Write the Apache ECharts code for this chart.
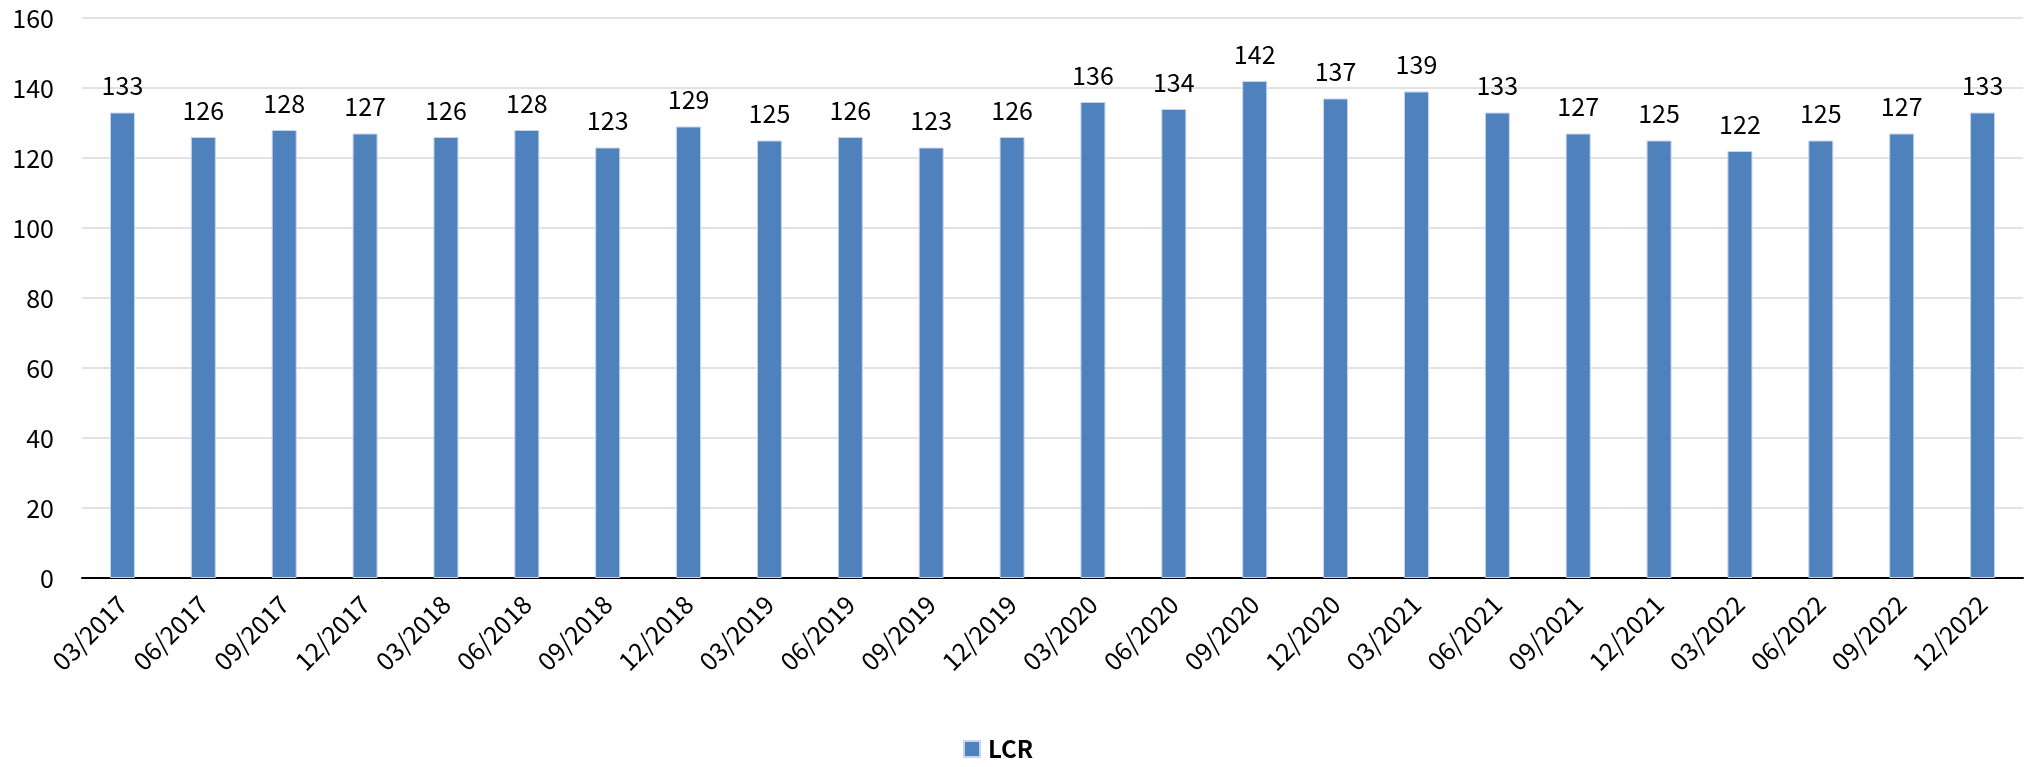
<!DOCTYPE html>
<html>
<head>
<meta charset="utf-8">
<script src="https://cdn.jsdelivr.net/npm/echarts@6/dist/echarts.min.js"></script>
<style>
  html, body { margin: 0; padding: 0; background: #fff; }
  #chart { width: 2025px; height: 767px; }
</style>
</head>
<body>
<div id="chart"></div>
<script>
// Quarterly liquidity coverage ratio (%)
const quarters = [
  '03/2017', '06/2017', '09/2017', '12/2017',
  '03/2018', '06/2018', '09/2018', '12/2018',
  '03/2019', '06/2019', '09/2019', '12/2019',
  '03/2020', '06/2020', '09/2020', '12/2020',
  '03/2021', '06/2021', '09/2021', '12/2021',
  '03/2022', '06/2022', '09/2022', '12/2022'
];
const lcrValues = [
  133, 126, 128, 127,
  126, 128, 123, 129,
  125, 126, 123, 126,
  136, 134, 142, 137,
  139, 133, 127, 125,
  122, 125, 127, 133
];
const seriesName = 'LCR';

const FONT = '"Noto Sans CJK JP", "Noto Sans", sans-serif';

const chart = echarts.init(document.getElementById('chart'), null, { renderer: 'canvas' });
chart.setOption({
  animation: false,
  textStyle: { fontFamily: FONT },
  grid: { left: 82, right: 2, top: 18, bottom: 189, containLabel: false },
  legend: {
    bottom: 1,
    left: 958,
    itemWidth: 16,
    itemHeight: 16,
    itemGap: 8,
    icon: 'rect',
    textStyle: { fontFamily: FONT, fontSize: 24, fontWeight: 'bold', color: '#000', padding: [0, 0, 0, 3] },
    data: [seriesName]
  },
  xAxis: {
    type: 'category',
    data: quarters,
    axisLine: { lineStyle: { color: '#000', width: 2 } },
    axisTick: { show: false },
    axisLabel: {
      rotate: 45,
      margin: 22,
      fontFamily: FONT,
      fontSize: 25,
      color: '#000'
    }
  },
  yAxis: {
    type: 'value',
    min: 0,
    max: 160,
    interval: 20,
    axisLine: { show: false },
    axisTick: { show: false },
    splitLine: { lineStyle: { color: '#d9d9d9', width: 1.5 } },
    axisLabel: {
      margin: 28,
      fontFamily: FONT,
      fontSize: 25,
      color: '#000'
    }
  },
  series: [{
    name: seriesName,
    type: 'bar',
    data: lcrValues,
    barWidth: 25,
    itemStyle: { color: '#4f81bd', borderColor: '#c6d5ea', borderWidth: 1 },
    label: {
      show: true,
      position: 'top',
      distance: 14,
      fontFamily: FONT,
      fontSize: 25,
      color: '#000'
    }
  }]
});
</script>
</body>
</html>
